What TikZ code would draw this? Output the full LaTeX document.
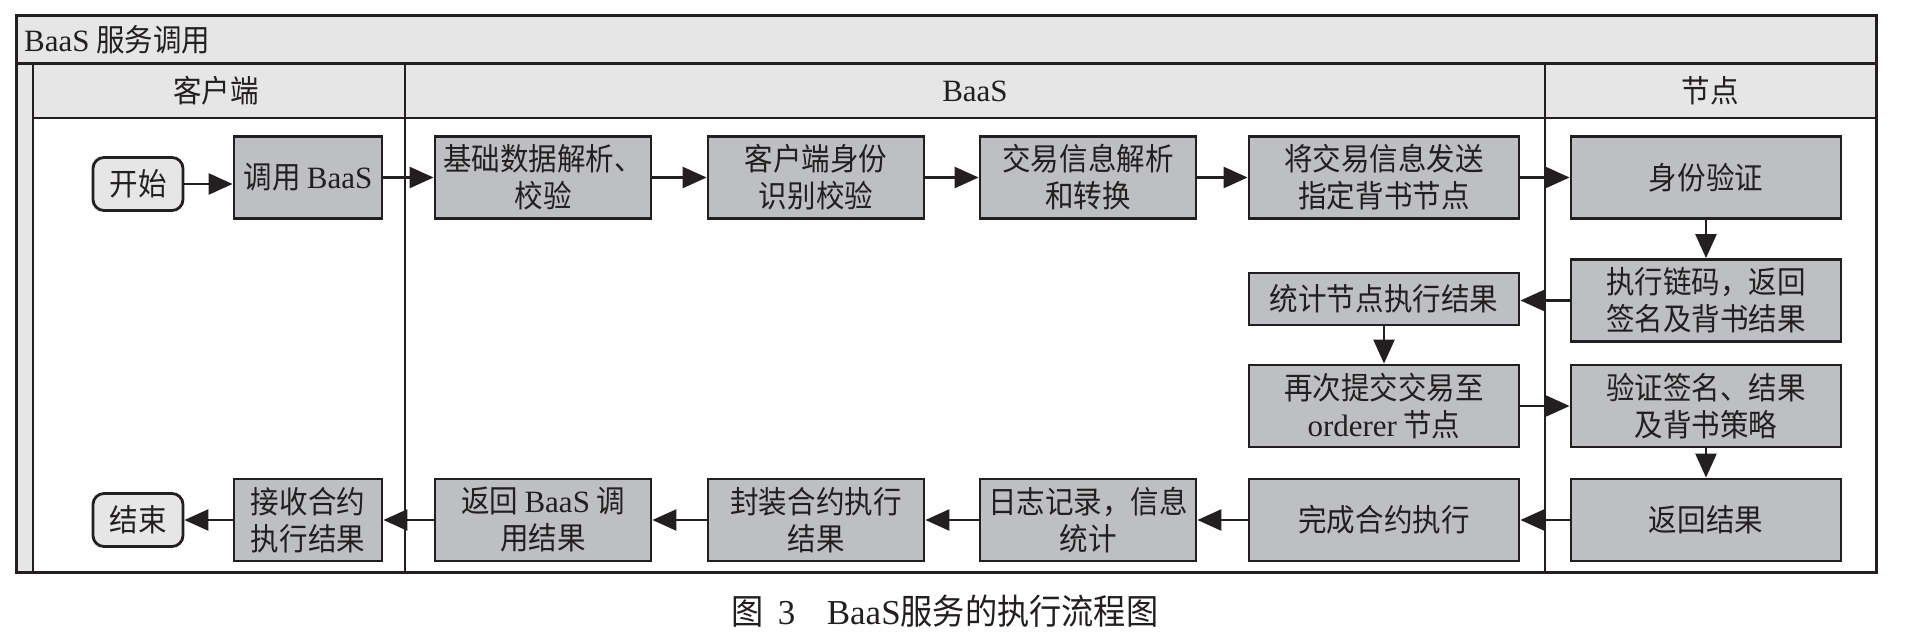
\documentclass[tikz,border=0pt]{standalone}
\usepackage{fontspec}
\setmainfont{Noto Sans CJK SC}[FakeStretch=0.92]
\newfontfamily\lat{Liberation Serif}
\usetikzlibrary{arrows.meta}
\definecolor{ink}{RGB}{35,31,32}
\definecolor{boxgray}{RGB}{190,191,194}
\definecolor{bandgray}{RGB}{230,230,231}
\tikzset{
  box/.style={draw=ink, line width=2.8pt, fill=boxgray, inner sep=0pt, align=center,
    font=\fontsize{31}{37}\selectfont, text=ink},
  narrowbox/.style={box, minimum width=148pt, minimum height=82pt},
  midbox/.style={box, minimum width=216pt, minimum height=82pt},
  widebox/.style={box, minimum width=270pt, minimum height=82pt},
  term/.style={box, fill=bandgray, rounded corners=11pt, minimum width=90pt, minimum height=53pt},
  arr/.style={draw=ink, line width=2.5pt, -{Triangle[length=24pt,width=21pt]}},
  frameline/.style={draw=ink, line width=3pt},
  laneline/.style={draw=ink, line width=2pt},
  lbl/.style={font=\fontsize{31}{37}\selectfont, text=ink, inner sep=0pt},
}
\begin{document}
\begin{tikzpicture}[x=1pt,y=-1pt]
\useasboundingbox (0,0) rectangle (1912,637);
\fill[white] (0,0) rectangle (1912,637);
% bands
\fill[bandgray] (16,15) rectangle (1876,63);
\fill[bandgray] (16,63) rectangle (33,572);
\fill[bandgray] (33,63) rectangle (1876,118);
% lane lines
\draw[laneline] (33,118) -- (1876,118);
\draw[laneline] (33,63) -- (33,572);
\draw[laneline] (405,63) -- (405,572);
\draw[laneline] (1545,63) -- (1545,572);
\draw[frameline] (16,63) -- (1876,63);
\draw[frameline] (16,15) rectangle (1876,572);
% labels
\node[lbl, anchor=west] (title) at (24,40) {{\lat BaaS} 服务调用};
\node[lbl] (hclient) at (216,91) {客户端};
\node[lbl] (hbaas) at (975,91) {\lat BaaS};
\node[lbl] (hnode) at (1710,91) {节点};
% row 1
\node[term] (start) at (138,184) {开始};
\node[narrowbox] (call) at (308,177.5) {调用 {\lat BaaS}};
\node[midbox] (parse) at (543,177.5) {基础数据解析、\\校验};
\node[midbox] (ident) at (816,177.5) {客户端身份\\识别校验};
\node[midbox] (conv) at (1088,177.5) {交易信息解析\\和转换};
\node[widebox] (send) at (1384,177.5) {将交易信息发送\\指定背书节点};
\node[widebox] (auth) at (1706,177.5) {身份验证};
% row 2
\node[widebox] (exec) at (1706,300.5) {执行链码，返回\\签名及背书结果};
\node[box, minimum width=270pt, minimum height=52pt] (stat) at (1384,299) {统计节点执行结果};
% row 3
\node[widebox] (submit) at (1384,406) {再次提交交易至\\{\lat orderer} 节点};
\node[widebox] (verify) at (1706,406) {验证签名、结果\\及背书策略};
% row 4
\node[widebox] (ret) at (1706,520) {返回结果};
\node[widebox] (done) at (1384,520) {完成合约执行};
\node[midbox] (log) at (1088,520) {日志记录，信息\\统计};
\node[midbox] (pack) at (816,520) {封装合约执行\\结果};
\node[midbox] (retb) at (543,520) {返回 {\lat BaaS} 调\\用结果};
\node[narrowbox] (recv) at (308,520) {接收合约\\执行结果};
\node[term] (end) at (138,520) {结束};
% arrows
\draw[arr] (start) -- (start -| call.west);
\draw[arr] (call) -- (parse);
\draw[arr] (parse) -- (ident);
\draw[arr] (ident) -- (conv);
\draw[arr] (conv) -- (send);
\draw[arr] (send) -- (auth);
\draw[arr] (auth) -- (exec);
\draw[arr] (exec.west) -- (exec.west -| stat.east);
\draw[arr] (stat) -- (submit);
\draw[arr] (submit) -- (verify);
\draw[arr] (verify) -- (ret);
\draw[arr] (ret) -- (done);
\draw[arr] (done) -- (log);
\draw[arr] (log) -- (pack);
\draw[arr] (pack) -- (retb);
\draw[arr] (retb) -- (recv);
\draw[arr] (recv) -- (end);
% caption
\node[font=\fontsize{35}{40}\selectfont, text=ink, inner sep=0pt] (caption) at (945,611) {图\hspace{0.4em}{\lat 3}\hspace{0.9em}{\lat BaaS}服务的执行流程图};
\end{tikzpicture}
\end{document}
